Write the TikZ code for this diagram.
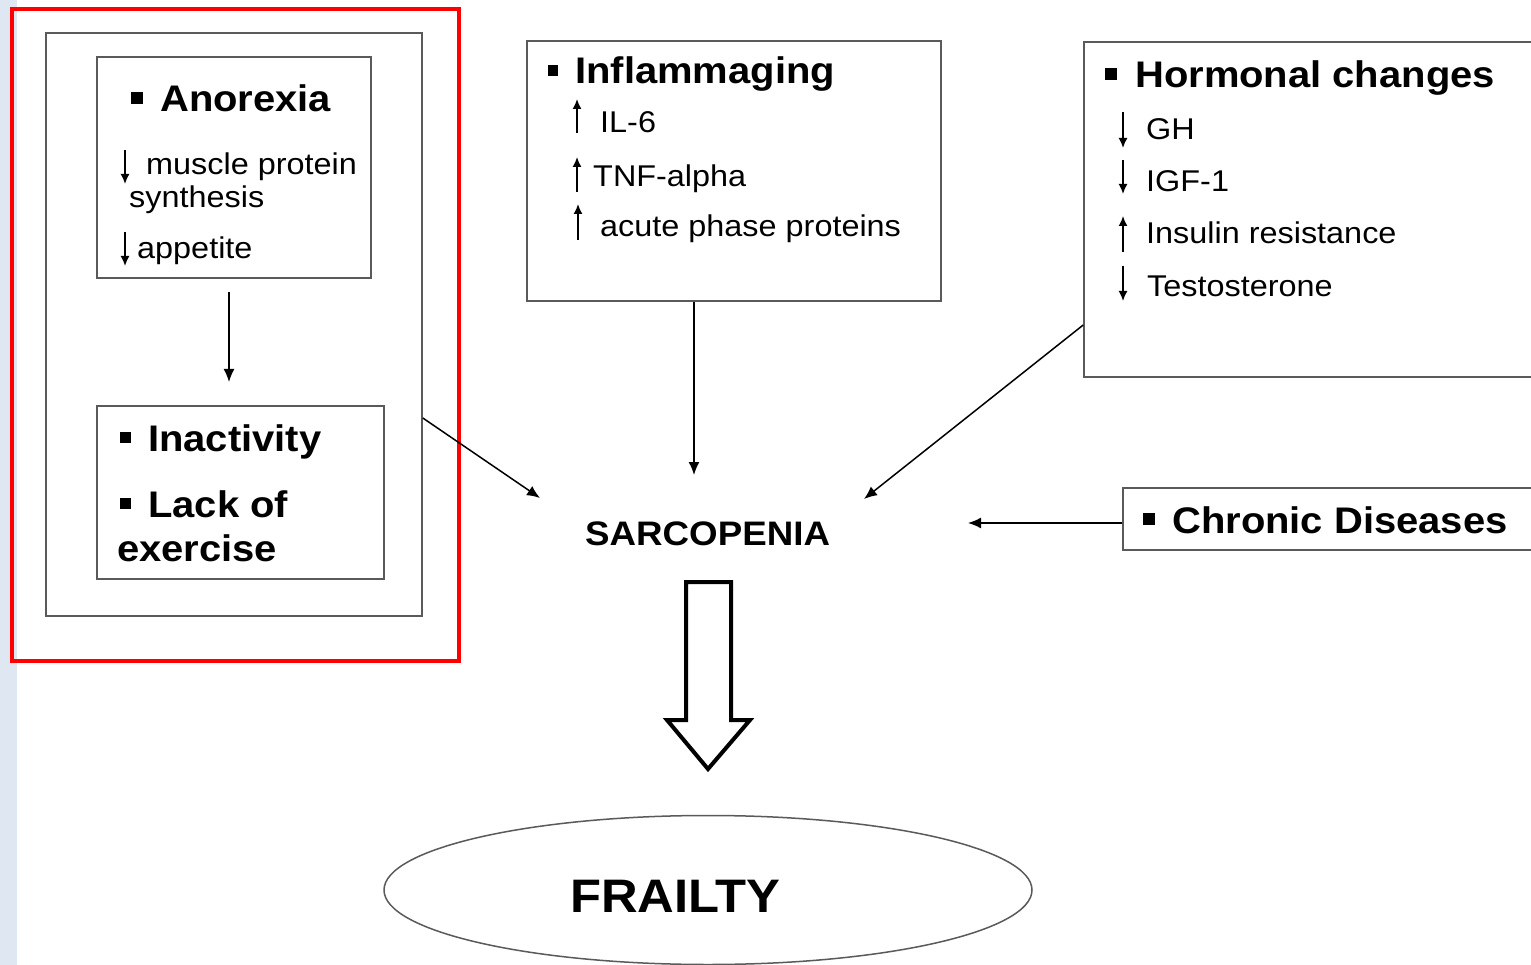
\documentclass[tikz,border=0pt]{standalone}
\usepackage{fontspec}
\setmainfont{Liberation Sans}[FakeStretch=1.08]
\usetikzlibrary{arrows.meta,shapes.geometric}
\definecolor{boxgray}{HTML}{5A5A5A}
\definecolor{stripblue}{HTML}{DFE7F2}
\begin{document}
\begin{tikzpicture}[x=1pt,y=-1pt,
  box/.style={draw=boxgray, line width=1.6pt, inner sep=0pt, fill=none},
  ttl/.style={anchor=base west, inner sep=0pt, font=\fontsize{37}{40}\selectfont\bfseries},
  itm/.style={anchor=base west, inner sep=0pt, font=\fontsize{30}{34}\selectfont},
  conn/.style={draw=black, line width=1.5pt, -{Latex[length=13pt,width=11pt]}},
  updown/.style={line width=1.6pt, -{Latex[length=10pt,width=9pt]}},
  blt/.style={fill=black}]
\useasboundingbox (0,0) rectangle (1531,965);
\fill[white] (0,0) rectangle (1531,965);
\fill[stripblue] (0,0) rectangle (17,965);

% red highlight frame
\node[draw=red, line width=4.5pt, minimum width=447pt, minimum height=652pt, inner sep=0pt] (focus) at (235.5,335) {};

% boxes
\node[box, minimum width=376pt, minimum height=583pt] (grp) at (234,324.5) {};
\node[box, minimum width=274pt, minimum height=221pt] (anor) at (234,167.5) {};
\node[box, minimum width=287pt, minimum height=173pt] (inact) at (240.5,492.5) {};
\node[box, minimum width=414pt, minimum height=260pt] (infl) at (734,171) {};
\node[box, minimum width=456pt, minimum height=335pt] (horm) at (1312,209.5) {};
\node[box, minimum width=417pt, minimum height=62pt] (chron) at (1331.5,519) {};

% Anorexia box text
\fill[blt] (131,92) rectangle (143,104);
\node[ttl] (tanor) at (160,112) {Anorexia};
\draw[updown] (125,150) -- (125,184);
\node[itm] (tmps) at (146,175) {muscle protein};
\node[itm] (tsyn) at (129,208) {synthesis};
\draw[updown] (125,232) -- (125,266);
\node[itm] (tapp) at (137,259) {appetite};

% Inactivity box text
\fill[blt] (120,432) rectangle (131,443);
\node[ttl] (tinact) at (148,451) {Inactivity};
\fill[blt] (120,498) rectangle (131,509);
\node[ttl] (tlack) at (148,517) {Lack of};
\node[ttl] (texer) at (117,561) {exercise};

% Inflammaging box text
\fill[blt] (548,65) rectangle (558,76);
\node[ttl] (tinfl) at (575,84) {Inflammaging};
\draw[updown] (577,133) -- (577,99);
\node[itm] (til6) at (600,133) {IL-6};
\draw[updown] (577,192) -- (577,157);
\node[itm] (ttnf) at (593,187) {TNF-alpha};
\draw[updown] (578,240) -- (578,204);
\node[itm] (tacute) at (600,237) {acute phase proteins};

% Hormonal box text
\fill[blt] (1105,68) rectangle (1117,80);
\node[ttl] (thorm) at (1135,88) {Hormonal changes};
\draw[updown] (1123,112) -- (1123,148);
\node[itm] (tgh) at (1146,140) {GH};
\draw[updown] (1123,160) -- (1123,194);
\node[itm] (tigf) at (1146,192) {IGF-1};
\draw[updown] (1123,252) -- (1123,216);
\node[itm] (tins) at (1146,244) {Insulin resistance};
\draw[updown] (1123,266) -- (1123,301);
\node[itm] (ttest) at (1147,297) {Testosterone};

% Chronic diseases
\fill[blt] (1143,513) rectangle (1155,525);
\node[ttl] (tchron) at (1172,533) {Chronic Diseases};

% Sarcopenia
\node[anchor=base west, inner sep=0pt, font=\fontsize{34}{38}\selectfont\bfseries] (sarc) at (585,545) {SARCOPENIA};

% connectors
\coordinate (a1) at (229,292);
\coordinate (a2) at (229,382);
\draw[conn] (a1) -- (a2);
\coordinate (g1) at (grp.east |- 0,418);
\coordinate (g2) at (540,498);
\draw[conn] (g1) -- (g2);
\coordinate (i1) at (infl.south -| 694,0);
\coordinate (i2) at (694,475);
\draw[conn] (i1) -- (i2);
\coordinate (h1) at (horm.west |- 0,325);
\coordinate (h2) at (864,499);
\draw[conn] (h1) -- (h2);
\coordinate (c2) at (968,523);
\coordinate (c1) at (chron.west |- c2);
\draw[conn] (c1) -- (c2);

% hollow block arrow
\draw[line width=4pt, line join=miter, fill=white] (686,582) -- (731,582) -- (731,720) -- (750,720) -- (708,769) -- (667,720) -- (686,720) -- cycle;

% Frailty
\node[draw=boxgray, line width=1.5pt, ellipse, minimum width=648pt, minimum height=149pt, inner sep=0pt] (frail) at (708,890) {};
\node[anchor=base west, inner sep=0pt, font=\fontsize{47}{50}\selectfont\bfseries] (tfrail) at (570,912) {FRAILTY};
\end{tikzpicture}
\end{document}
